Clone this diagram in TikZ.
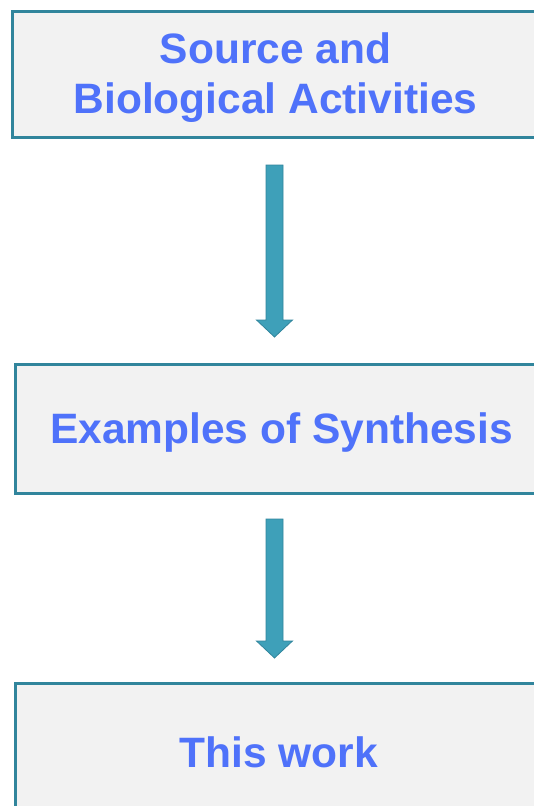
\documentclass[tikz,border=0pt]{standalone}
\usepackage{fontspec}
\setmainfont{Liberation Sans}
\usetikzlibrary{calc}
\definecolor{boxborder}{RGB}{49,133,156}
\definecolor{boxfill}{RGB}{242,242,242}
\definecolor{boxtext}{RGB}{79,114,250}
\definecolor{arrowfill}{RGB}{62,160,185}
\tikzset{
  stagebox/.style={draw=boxborder, fill=boxfill, line width=3pt, inner sep=0pt,
    anchor=north west},
  stagetext/.style={align=center, text=boxtext, inner sep=0pt,
    font=\fontsize{42.5}{50}\selectfont\bfseries},
  blockarrow/.style={fill=arrowfill, draw=boxborder, line width=0.8pt, line join=miter}
}
\begin{document}
\begin{tikzpicture}[x=1pt,y=-1pt]
\useasboundingbox (0,0) rectangle (534,806);
\clip (0,0) rectangle (534,806);
\fill[white] (0,0) rectangle (534,806);
\node[stagebox, minimum width=526, minimum height=126] (b1) at (11,10) {};
\node[stagebox, minimum width=532, minimum height=129] (b2) at (14,363) {};
\node[stagebox, minimum width=526, minimum height=142] (b3) at (14,682) {};
\node[stagetext] (l1) at ($(b1.center)+(0,3)$) {Source and\\Biological Activities};
\node[stagetext] (l2) at ($(b2.center)+(0,4)$) {Examples of Synthesis};
\node[stagetext] (l3) at ($(b3.center)+(0,-2)$) {This work};
% arrows
\coordinate (t1) at (274.5,165);
\coordinate (h1) at (274.5,337);
\coordinate (t2) at (274.5,519);
\coordinate (h2) at (274.5,658);
\foreach \t/\h in {t1/h1,t2/h2}{
  \draw[blockarrow] ($(\t)+(-8.5,0)$) -- ($(\t)+(8.5,0)$) -- ($(\h)+(8.5,-17)$) -- ($(\h)+(18,-17)$) -- (\h) -- ($(\h)+(-18,-17)$) -- ($(\h)+(-8.5,-17)$) -- cycle;
}
\end{tikzpicture}
\end{document}
